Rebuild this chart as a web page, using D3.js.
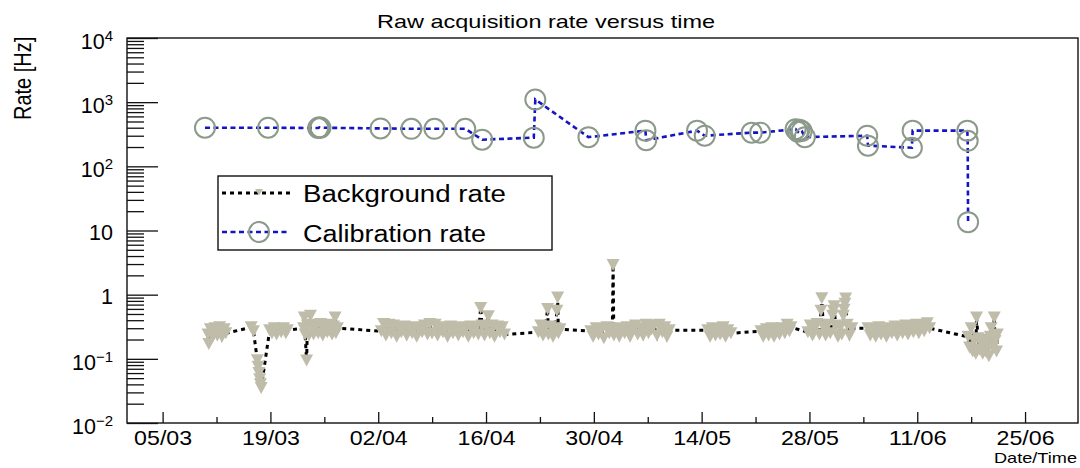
<!DOCTYPE html>
<html>
<head>
<meta charset="utf-8">
<script src="https://cdn.jsdelivr.net/npm/d3@7"></script>
<style>
  body { margin: 0; background: #fff; }
  svg { display: block; }
  text { font-family: "Liberation Sans", Arial, Helvetica, sans-serif; fill: #000; }
</style>
</head>
<body>
<svg id="chart" width="1080" height="468"></svg>
<script>
// ---- Chart text ----
const chartTitle = "Raw acquisition rate versus time";
const yTitle = "Rate [Hz]";
const xTitle = "Date/Time";
const seriesNames = ["Background rate", "Calibration rate"];

// ---- Axis ticks ----
const xMajorDates = ["2018-03-05", "2018-03-19", "2018-04-02", "2018-04-16", "2018-04-30",
                     "2018-05-14", "2018-05-28", "2018-06-11", "2018-06-25"];
const yMajorValues = [1e-2, 1e-1, 1, 10, 1e2, 1e3, 1e4];
const yMajorLabels = [["10", "\u22122"], ["10", "\u22121"], ["1", ""], ["10", ""],
                      ["10", "2"], ["10", "3"], ["10", "4"]];

// ---- Data: times are days since 05/03/2018 00:00 UTC, rates in Hz ----
// Background runs, one line per run
const bgDays = [
  5.9, 6.0, 6.2, 6.5, 6.8, 7.1, 7.4, 7.7, 8.0, 8.2,
  11.5, 11.8, 12.3, 12.4, 12.5, 12.6, 12.7, 12.8,
  13.9, 14.2, 14.5, 14.8, 15.1, 15.4, 15.7, 16.0, 16.2,
  18.3, 18.4, 18.5, 18.7, 18.8, 19.0, 19.2, 19.3, 19.6, 19.9, 20.2, 20.5, 20.8, 21.1, 21.4, 21.7,
  22.0, 22.2, 22.4, 22.5, 22.7,
  28.4, 28.7, 29.0, 29.4, 29.7, 30.0, 30.4, 30.7, 31.0, 31.4, 31.7, 32.0, 32.4, 32.7, 33.0, 33.4,
  33.7, 34.0, 34.4, 34.7, 35.0, 35.4, 35.7, 36.0, 36.4, 36.7, 37.0, 37.4, 37.7, 38.0, 38.4, 38.7,
  39.0, 39.4, 39.7, 40.0, 40.4, 40.7, 41.0, 41.3, 41.5, 41.8, 42.1, 42.3, 42.5, 42.8, 43.1, 43.5,
  43.8, 44.1, 44.4,
  48.8, 49.1, 49.4, 49.7, 50.0, 50.1, 50.4, 50.7, 51.0, 51.2, 51.3, 51.4, 51.6,
  55.6, 55.9, 56.3, 56.6, 57.0, 57.3, 57.7, 58.0, 58.4, 58.5, 58.6, 58.9, 59.3, 59.6, 60.0, 60.3,
  60.7, 61.0, 61.4, 61.7, 62.1, 62.4, 62.8, 63.1, 63.5, 63.8, 64.2, 64.5, 64.9, 65.2, 65.5, 65.8,
  70.8, 71.1, 71.4, 71.8, 72.1, 72.4, 72.8, 73.1, 73.4, 73.8,
  77.7, 78.0, 78.4, 78.7, 79.1, 79.4, 79.8, 80.1, 80.5, 80.8, 81.1, 81.4, 81.6,
  83.8, 84.1, 84.4, 84.7, 85.0, 85.3, 85.5, 85.6, 85.8, 86.1, 86.4, 86.7, 87.0, 87.1, 87.2, 87.4,
  87.7, 88.0, 88.2, 88.4, 88.5, 88.6, 88.7, 88.9, 89.2, 89.5,
  91.6, 91.9, 92.3, 92.6, 93.0, 93.3, 93.7, 94.0, 94.4, 94.7, 95.1, 95.4, 95.8, 96.1, 96.5, 96.8,
  97.2, 97.5, 97.9, 98.2, 98.6, 98.9, 99.3, 99.6,
  104.6, 104.8, 105.0, 105.2, 105.4, 105.6, 105.7, 105.9, 106.1, 106.3, 106.5, 106.7, 106.9, 107.1,
  107.3, 107.5, 107.6, 107.8, 108.0, 108.1, 108.3, 108.4
];
const bgRates = [
  0.24, 0.17, 0.29, 0.22, 0.30, 0.23, 0.31, 0.22, 0.29, 0.25,
  0.31, 0.27, 0.095, 0.075, 0.06, 0.048, 0.04, 0.035,
  0.28, 0.25, 0.30, 0.24, 0.29, 0.26, 0.30, 0.25, 0.28,
  0.30, 0.44, 0.24, 0.094, 0.33, 0.23, 0.47, 0.34, 0.24, 0.32, 0.25, 0.35, 0.23, 0.33, 0.26, 0.34,
  0.24, 0.32, 0.44, 0.25, 0.30,
  0.27, 0.35, 0.23, 0.34, 0.25, 0.33, 0.22, 0.31, 0.26, 0.32, 0.23, 0.30, 0.25, 0.31, 0.22, 0.29,
  0.26, 0.33, 0.24, 0.35, 0.25, 0.34, 0.23, 0.31, 0.26, 0.30, 0.22, 0.32, 0.25, 0.29, 0.23, 0.31,
  0.26, 0.30, 0.22, 0.32, 0.25, 0.31, 0.24, 0.62, 0.33, 0.23, 0.32, 0.46, 0.25, 0.33, 0.22, 0.32,
  0.26, 0.31, 0.24,
  0.26, 0.33, 0.23, 0.31, 0.60, 0.24, 0.32, 0.22, 0.30, 0.56, 0.90, 0.25, 0.29,
  0.27, 0.22, 0.30, 0.24, 0.29, 0.21, 0.31, 0.25, 0.28, 2.9, 0.23, 0.30, 0.22, 0.29, 0.25, 0.31,
  0.22, 0.28, 0.33, 0.24, 0.30, 0.23, 0.34, 0.25, 0.29, 0.33, 0.23, 0.34, 0.26, 0.31, 0.22, 0.28,
  0.28, 0.22, 0.30, 0.23, 0.29, 0.24, 0.31, 0.22, 0.28, 0.25,
  0.27, 0.22, 0.29, 0.23, 0.30, 0.22, 0.28, 0.24, 0.30, 0.25, 0.34, 0.27, 0.31,
  0.26, 0.33, 0.23, 0.31, 0.35, 0.24, 0.56, 0.88, 0.32, 0.23, 0.34, 0.25, 0.47, 0.56, 0.66, 0.33,
  0.22, 0.31, 0.24, 0.47, 0.58, 0.72, 0.87, 0.34, 0.23, 0.30,
  0.30, 0.23, 0.29, 0.22, 0.31, 0.24, 0.28, 0.22, 0.30, 0.25, 0.32, 0.23, 0.30, 0.25, 0.33, 0.24,
  0.31, 0.26, 0.34, 0.25, 0.33, 0.27, 0.36, 0.30,
  0.22, 0.15, 0.30, 0.13, 0.19, 0.12, 0.44, 0.21, 0.14, 0.18, 0.12, 0.20, 0.13, 0.17,
  0.11, 0.22, 0.30, 0.15, 0.44, 0.19, 0.13, 0.24
];
const calDays = [5.5, 13.7, 20.2, 20.35, 20.5, 28.3, 32.3, 35.3, 39.3, 41.5, 48.2, 48.4, 55.3,
                 62.7, 62.8, 69.4, 70.4, 76.5, 77.6, 82.2, 82.5, 82.7, 83.0, 83.4,
                 91.5, 91.6, 97.3, 97.4, 104.5, 104.55, 104.6];
const calRates = [400, 400, 395, 405, 400, 390, 385, 385, 385, 260, 280, 1100, 285,
                  360, 255, 360, 300, 335, 335, 380, 345, 370, 355, 285,
                  300, 210, 195, 360, 360, 250, 13.5];

// ---- Layout ----
const plot = { left: 127, right: 1078, top: 38, bottom: 423 };
const DAY = 86400000;
const origin = Date.UTC(2018, 2, 5);
const toDate = d => new Date(origin + d * DAY);

const svg = d3.select("#chart");

const x = d3.scaleUtc()
  .domain([new Date(Date.UTC(2018, 1, 28, 9)), new Date(Date.UTC(2018, 6, 1, 21))])
  .range([plot.left, plot.right]);
const y = d3.scaleLog()
  .domain([1e-2, 1e4])
  .range([plot.bottom, plot.top]);

const bg = bgDays.map((d, i) => ({ t: toDate(d), v: bgRates[i] }));
const cal = calDays.map((d, i) => ({ t: toDate(d), v: calRates[i] }));

const line = d3.line().x(d => x(d.t)).y(d => y(d.v));

const bgColor = "#bfbca9";
const calStroke = "#8b9a8b";
const calLine = "#1414c4";
const triPath = "M-6.5,-6L6.5,-6L0,6Z";

// ---- Background series ----
svg.append("path").datum(bg)
  .attr("d", line).attr("fill", "none")
  .attr("stroke", "#000").attr("stroke-width", 3).attr("stroke-dasharray", "4,4");
svg.append("g").selectAll("path").data(bg).join("path")
  .attr("d", triPath)
  .attr("transform", d => `translate(${x(d.t)},${y(d.v)})`)
  .attr("fill", bgColor);

// ---- Calibration series ----
svg.append("path").datum(cal)
  .attr("d", line).attr("fill", "none")
  .attr("stroke", calLine).attr("stroke-width", 2.6).attr("stroke-dasharray", "5,3.5");
svg.append("g").selectAll("circle").data(cal).join("circle")
  .attr("cx", d => x(d.t)).attr("cy", d => y(d.v)).attr("r", 10)
  .attr("fill", "none").attr("stroke", calStroke).attr("stroke-width", 2);

// ---- Frame ----
svg.append("rect")
  .attr("x", plot.left).attr("y", plot.top)
  .attr("width", plot.right - plot.left).attr("height", plot.bottom - plot.top)
  .attr("fill", "none").attr("stroke", "#111").attr("stroke-width", 1.4);

// ---- X axis (ticks point into the frame) ----
const xMajor = xMajorDates.map(s => new Date(s + "T00:00:00Z"));
const isMajorDate = t => xMajor.some(m => Math.abs(m - t) < 1000);
const xMinor = x.ticks(d3.utcMonday.every(1)).filter(t => !isMajorDate(t));

const gxMinor = svg.append("g").attr("transform", `translate(0,${plot.bottom})`)
  .call(d3.axisBottom(x).tickValues(xMinor).tickSizeInner(-6).tickSizeOuter(0).tickFormat(() => ""));
const gx = svg.append("g").attr("transform", `translate(0,${plot.bottom})`)
  .call(d3.axisBottom(x).tickValues(xMajor).tickSizeInner(-11).tickSizeOuter(0)
    .tickFormat(d3.utcFormat("%d/%m")));
[gxMinor, gx].forEach(g => {
  g.select(".domain").remove();
  g.selectAll("line").attr("stroke", "#111").attr("stroke-width", 1.3);
});
gx.attr("font-family", null).attr("font-size", null);
gx.selectAll("text")
  .attr("y", 22).attr("dy", null)
  .attr("font-size", 21)
  .attr("textLength", 58).attr("lengthAdjust", "spacingAndGlyphs");

// ---- Y axis (log, ticks point into the frame) ----
const isDecade = v => Math.abs(Math.log10(v) - Math.round(Math.log10(v))) < 1e-6;
const yMinor = y.ticks().filter(v => !isDecade(v));
const gyMinor = svg.append("g").attr("transform", `translate(${plot.left},0)`)
  .call(d3.axisLeft(y).tickValues(yMinor).tickSizeInner(-17).tickSizeOuter(0).tickFormat(() => ""));
const gy = svg.append("g").attr("transform", `translate(${plot.left},0)`)
  .call(d3.axisLeft(y).tickValues(yMajorValues).tickSizeInner(-31).tickSizeOuter(0).tickFormat(() => ""));
[gyMinor, gy].forEach(g => {
  g.select(".domain").remove();
  g.selectAll("line").attr("stroke", "#111").attr("stroke-width", 1.3);
});
gy.selectAll("text").remove();
gy.selectAll(".tick").each(function (v, i) {
  const [base, exp] = yMajorLabels[i];
  const t = d3.select(this).append("text")
    .attr("x", -14)
    .attr("y", exp ? 10.5 : 8.5)
    .attr("text-anchor", "end")
    .attr("font-size", 21.5);
  t.append("tspan").text(base);
  if (exp) t.append("tspan").attr("dy", -8).attr("font-size", 15).text(exp);
});

// ---- Titles ----
svg.append("text")
  .attr("x", 377).attr("y", 28)
  .attr("font-size", 19)
  .attr("textLength", 338).attr("lengthAdjust", "spacingAndGlyphs")
  .text(chartTitle);

svg.append("text")
  .attr("transform", "translate(31,120) scale(1.2,1) rotate(-90)")
  .attr("font-size", 20)
  .text(yTitle);

svg.append("text")
  .attr("x", 1077).attr("y", 463)
  .attr("text-anchor", "end")
  .attr("font-size", 15)
  .attr("textLength", 83).attr("lengthAdjust", "spacingAndGlyphs")
  .text(xTitle);

// ---- Legend ----
const legend = svg.append("g");
legend.append("rect")
  .attr("x", 218).attr("y", 176).attr("width", 334).attr("height", 74)
  .attr("fill", "#fff").attr("stroke", "#111").attr("stroke-width", 1.4);

const legendRows = [
  { y: 193, base: 201.7, width: 203, stroke: "#000", sw: 3, dash: "4,4" },
  { y: 232, base: 241.7, width: 183, stroke: calLine, sw: 2.6, dash: "5,3.5" }
];
legendRows.forEach((r, i) => {
  legend.append("line")
    .attr("x1", 222).attr("x2", 290).attr("y1", r.y).attr("y2", r.y)
    .attr("stroke", r.stroke).attr("stroke-width", r.sw).attr("stroke-dasharray", r.dash);
  legend.append("text")
    .attr("x", 303).attr("y", r.base)
    .attr("font-size", 23)
    .attr("textLength", r.width).attr("lengthAdjust", "spacingAndGlyphs")
    .text(seriesNames[i]);
});
legend.append("path")
  .attr("d", "M-4,-3L4,-3L0,3.5Z")
  .attr("transform", "translate(259,192)")
  .attr("fill", bgColor);
legend.append("circle")
  .attr("cx", 259).attr("cy", 232).attr("r", 10)
  .attr("fill", "none").attr("stroke", calStroke).attr("stroke-width", 2);
</script>
</body>
</html>
